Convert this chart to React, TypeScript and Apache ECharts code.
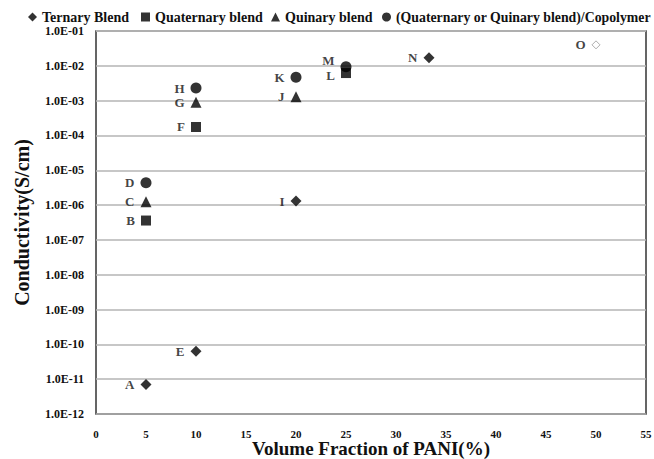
import React, { useEffect, useRef } from "react";
import * as echarts from "echarts";

const xTicks = [0, 5, 10, 15, 20, 25, 30, 35, 40, 45, 50, 55];

const ternaryNames = ["A", "E", "I", "N", "O"];
const ternaryX = [5, 10, 20, 33.3, 50];
const ternaryY = [7e-12, 6.3e-11, 1.3e-6, 1.7e-2, 4e-2];

const quaternaryNames = ["B", "F", "L"];
const quaternaryX = [5, 10, 25];
const quaternaryY = [3.6e-7, 1.75e-4, 6.2e-3];

const quinaryNames = ["C", "G", "J"];
const quinaryX = [5, 10, 20];
const quinaryY = [1.25e-6, 9e-4, 1.3e-3];

const copolyNames = ["D", "H", "K", "M"];
const copolyX = [5, 10, 20, 25];
const copolyY = [4.4e-6, 2.3e-3, 4.7e-3, 9.4e-3];

const seriesNames = [
  "Ternary Blend",
  "Quaternary blend",
  "Quinary blend",
  "(Quaternary or Quinary blend)/Copolymer",
];

const FONT = "'Liberation Serif', 'Times New Roman', serif";

function fmtExp(v: number) {
  const e = Math.round(Math.log10(v));
  const sign = e < 0 ? "-" : "+";
  const a = Math.abs(e);
  return "1.0E" + sign + (a < 10 ? "0" + a : String(a));
}

export default function App() {
  const ref = useRef<HTMLDivElement>(null);
  useEffect(() => {
    document.body.style.margin = "0";
    const chart = echarts.init(ref.current!, undefined, { renderer: "svg" });
    const labelCfg = {
      show: true,
      position: "left" as const,
      distance: 6,
      color: "#111",
      fontFamily: FONT,
      fontWeight: "bold" as const,
      fontSize: 13,
      formatter: (p: any) => p.data.name,
    };
    const mk = (xs: number[], ys: number[], ns: string[]) =>
      xs.map((x, i) => ({ name: ns[i], value: [x, ys[i]] }));
    const ternData: any[] = mk(ternaryX, ternaryY, ternaryNames);
    ternData[4] = {
      ...ternData[4],
      symbolSize: 8,
      itemStyle: { color: "#fff", borderColor: "#999", borderWidth: 1 },
    };
    const copData: any[] = mk(copolyX, copolyY, copolyNames);
    copData[3] = { ...copData[3], label: { offset: [0, -6] } };
    const quatData: any[] = mk(quaternaryX, quaternaryY, quaternaryNames);
    quatData[2] = { ...quatData[2], label: { offset: [0, 2] } };

    const icons = ["diamond", "rect", "triangle", "circle"];
    const legendLeft = [28, 141, 271, 382];
    const legendFont = [14, 14, 14, 13.8];
    const legends = seriesNames.map((n, i) => ({
      top: 10,
      left: legendLeft[i],
      itemWidth: 9,
      itemHeight: 9,
      itemGap: 0,
      padding: 0,
      textStyle: {
        fontFamily: FONT,
        fontWeight: "bold",
        fontSize: legendFont[i],
        color: "#111",
      },
      data: [{ name: n, icon: icons[i] }],
    }));

    chart.setOption({
      animation: false,
      backgroundColor: "#fff",
      textStyle: { fontFamily: FONT },
      legend: legends,
      grid: {
        left: 96,
        right: 8,
        top: 31,
        bottom: 45,
        show: true,
        borderColor: "#333",
        borderWidth: 1.5,
        containLabel: false,
        outerBoundsMode: "none",
      },
      xAxis: {
        type: "value",
        min: 0,
        max: 55,
        interval: 5,
        name: "Volume Fraction of PANI(%)",
        nameLocation: "middle",
        nameGap: 25,
        nameMoveOverlap: false,
        nameTextStyle: { fontFamily: FONT, fontWeight: "bold", fontSize: 19, color: "#111" },
        axisLine: { show: false },
        axisTick: { show: false },
        splitLine: { show: false },
        axisLabel: {
          margin: 14,
          fontFamily: FONT,
          fontWeight: "bold",
          fontSize: 11,
          color: "#111",
          formatter: (v: number) => (xTicks.includes(v) ? String(v) : ""),
        },
      },
      yAxis: {
        type: "log",
        logBase: 10,
        min: 1e-12,
        max: 1e-1,
        interval: 1,
        name: "Conductivity(S/cm)",
        nameLocation: "middle",
        nameGap: 64,
        nameMoveOverlap: false,
        nameTextStyle: { fontFamily: FONT, fontWeight: "bold", fontSize: 20, color: "#111" },
        axisLine: { show: false },
        axisTick: { show: false },
        splitLine: { show: true, lineStyle: { color: "#b5b5b5", width: 1.5 } },
        minorSplitLine: { show: false },
        axisLabel: {
          margin: 12,
          fontFamily: FONT,
          fontWeight: "bold",
          fontSize: 12,
          color: "#111",
          formatter: (v: number) => fmtExp(v),
        },
      },
      series: [
        {
          name: seriesNames[0],
          type: "scatter",
          symbol: "diamond",
          symbolSize: 11,
          itemStyle: { color: "#000" },
          label: labelCfg,
          data: ternData,
        },
        {
          name: seriesNames[1],
          type: "scatter",
          symbol: "rect",
          symbolSize: 10,
          itemStyle: { color: "#000" },
          label: labelCfg,
          data: quatData,
        },
        {
          name: seriesNames[2],
          type: "scatter",
          symbol: "triangle",
          symbolSize: 11,
          itemStyle: { color: "#000" },
          label: labelCfg,
          data: mk(quinaryX, quinaryY, quinaryNames),
        },
        {
          name: seriesNames[3],
          type: "scatter",
          symbol: "circle",
          symbolSize: 11,
          itemStyle: { color: "#000" },
          label: labelCfg,
          data: copData,
        },
      ],
    });
    return () => chart.dispose();
  }, []);
  return <div ref={ref} style={{ width: 654, height: 459 }} />;
}
